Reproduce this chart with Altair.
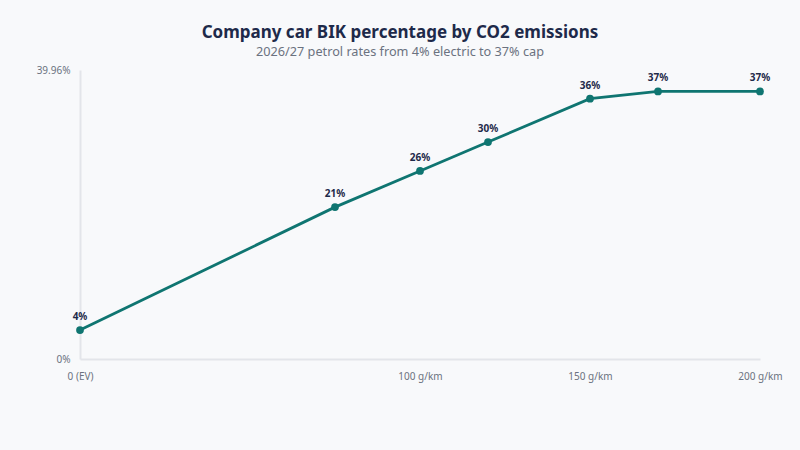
import altair as alt
import pandas as pd

# CO2 emissions (g/km) and the matching benefit-in-kind percentage
co2 = [0, 75, 100, 120, 150, 170, 200]
bik = [4, 21, 26, 30, 36, 37, 37]
labels = ["4%", "21%", "26%", "30%", "36%", "37%", "37%"]

x_ticks = [0, 100, 150, 200]
y_max = 39.96

df = pd.DataFrame({"co2": co2, "bik": bik, "label": labels})

FONT = "Noto Sans"
TEAL = "#0f7571"
NAVY = "#1e2a4a"
GREY = "#6b7280"

x_enc = alt.X(
    "co2:Q",
    scale=alt.Scale(domain=[0, 200], nice=False),
    axis=alt.Axis(
        values=x_ticks,
        labelExpr="datum.value == 0 ? '0 (EV)' : datum.value + ' g/km'",
        title=None,
        grid=False,
        ticks=False,
        labelFlush=False,
        domainColor="#e3e5ea",
        domainWidth=2,
        labelColor=GREY,
        labelFontSize=10,
        labelPadding=12,
        labelFont=FONT,
    ),
)
y_enc = alt.Y(
    "bik:Q",
    scale=alt.Scale(domain=[0, y_max], nice=False, zero=True),
    axis=alt.Axis(
        values=[0, y_max],
        labelExpr="datum.value + '%'",
        title=None,
        grid=False,
        ticks=False,
        labelFlush=False,
        domainColor="#e3e5ea",
        domainWidth=2,
        labelColor=GREY,
        labelFontSize=10,
        labelPadding=10,
        labelFont=FONT,
    ),
)

base = alt.Chart(df).encode(x=x_enc, y=y_enc)

line = base.mark_line(color=TEAL, strokeWidth=2.8)
points = base.mark_circle(color=TEAL, size=60, opacity=1)
text = base.mark_text(
    dy=-13, fontSize=10, fontWeight="bold", color=NAVY, font=FONT
).encode(text="label:N")

chart = (
    alt.layer(line, points, text)
    .properties(
        width=680,
        height=289,
        background="#f8f9fb",
        padding={"left": 80, "top": 70, "right": 40, "bottom": 91},
        autosize=alt.AutoSizeParams(type="none"),
        title=alt.TitleParams(
            text="Company car BIK percentage by CO2 emissions",
            subtitle="2026/27 petrol rates from 4% electric to 37% cap",
            anchor="middle",
            dx=-20,
            offset=5,
            font=FONT,
            fontSize=17,
            fontWeight="bold",
            color=NAVY,
            subtitleFont=FONT,
            subtitleFontSize=12.7,
            subtitleColor=GREY,
            subtitlePadding=4,
        ),
    )
    .configure_view(stroke=None)
)

chart.save("out.html", embed_options={"renderer": "svg", "actions": False})
